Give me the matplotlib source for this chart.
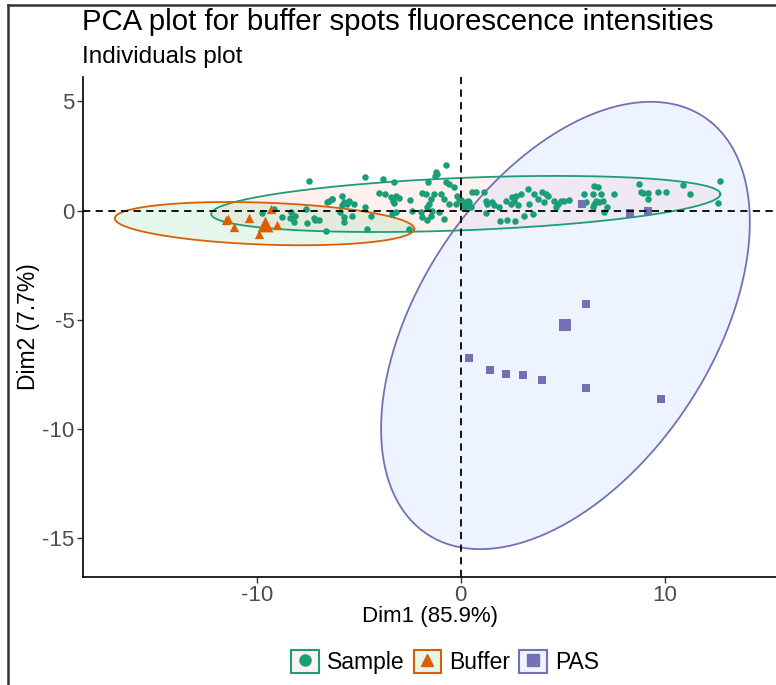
import numpy as np
import matplotlib
matplotlib.use('Agg')
import matplotlib.pyplot as plt
from matplotlib.patches import Patch
from matplotlib.lines import Line2D

plt.rcParams['font.family'] = ['Liberation Sans', 'DejaVu Sans']
plt.rcParams['axes.unicode_minus'] = False

# グループ別の個体座標 (Dim1, Dim2)
sample_x = [-7.45, -6.55, -9.75, -9.17, -8.76, -8.32, -8.39, -8.11, -8.19, -7.53, -7.57, -7.2, -6.96,
            -7.13, -6.63, -0.70, -1.23, -1.28, -1.18, -4.67, -3.80, -3.28, -1.61, -6.30, -5.81, -5.73,
            -5.57, -5.49, -5.24, -5.81, -4.01, -3.69, -3.44, -3.19, -3.03, -3.28, -3.31, -2.49, -1.88,
            -1.72, -1.31, -0.98, -0.82, -0.57, -1.47, -1.56, -1.64, -1.39, -0.16, -0.08, -5.90, -5.73,
            -5.73, -5.32, -4.67, -4.42, -3.36, -3.19, -2.37, -1.97, -1.88, -1.64, -1.47, -1.07, -0.82,
            -4.58, -2.54, -0.33, -0.74, -0.57, -0.25, -6.47, -6.30,
            0.57, 0.74, 1.15, 0.41, 0.49, 0.16, 1.23, 1.31, 1.23, 1.56, 1.64, 1.88, 2.21, 2.46, 2.54,
            2.70, 2.62, 2.79, 2.95, 3.28, 3.36, 3.60, 3.77, 4.01, 4.18, 4.26, 4.09, 4.58, 4.75, 4.67,
            4.91, 5.08, 5.32, 6.06, 6.14, 1.93, 2.29, 2.67, 3.11, 3.57, 0.0, 0.08, 0.35, 0.30,
            6.55, 6.72, 6.47, 6.88, 6.63, 6.80, 6.96, 6.55, 6.47, 7.17, 7.04, 7.50, 8.76, 8.85, 8.93,
            9.21, 9.21, 9.66, 10.07, 10.89, 11.27, 12.74, 12.61]
sample_y = [1.33, 0.38, -0.12, 0.08, -0.30, -0.08, -0.33, -0.26, -0.53, -0.58, 0.08, -0.33, -0.42,
            -0.45, -0.94, 2.09, 1.74, 1.59, 1.67, 1.55, 1.44, 1.29, 1.29, 0.53, 0.68, 0.38,
            0.30, 0.45, 0.30, 0.23, 0.80, 0.76, 0.60, 0.68, 0.58, 0.33, 0.42, 0.49, 0.80,
            0.76, 0.76, 0.76, 0.53, 0.30, 0.53, 0.30, 0.15, 0.0, 0.68, 0.53, -0.08, -0.30,
            -0.53, -0.23, 0.15, -0.23, -0.15, -0.08, 0.0, -0.08, -0.30, -0.45, -0.27, -0.08, -0.38,
            -0.86, -0.83, 1.06, 1.29, 1.21, 0.30, 0.45, 0.53,
            0.83, 0.83, 0.83, 0.38, 0.15, 0.15, 0.45, 0.30, -0.12, 0.38, 0.23, 0.15, 0.45, 0.30, 0.60,
            0.68, 0.45, 0.23, 0.76, 0.99, 0.30, 0.76, 0.53, 0.83, 0.76, 0.68, 0.38, 0.45, 0.30, 0.15,
            0.45, 0.45, 0.49, 0.76, 0.38, -0.50, -0.42, -0.49, -0.23, -0.15, 0.49, 0.38, 0.45, 0.20,
            1.14, 1.06, 0.76, 0.76, 0.45, 0.38, 0.45, 0.30, 0.15, 0.15, -0.08, 0.76, 1.21, 0.83, 0.80,
            0.80, 0.53, 0.83, 0.86, 1.17, 0.76, 1.33, 0.35]
buffer_x = [-11.5, -11.14, -10.4, -9.88, -9.29, -9.0, -11.4]
buffer_y = [-0.45, -0.76, -0.33, -1.06, 0.08, -0.65, -0.38]
pas_x = [6.16, 0.41, 1.46, 2.21, 3.06, 3.98, 6.16, 9.83, 5.93, 8.32, 9.17]
pas_y = [-4.27, -6.73, -7.29, -7.5, -7.53, -7.77, -8.11, -8.62, 0.30, -0.11, 0.0]

groups = ['Sample', 'Buffer', 'PAS']
group_x = [sample_x, buffer_x, pas_x]
group_y = [sample_y, buffer_y, pas_y]
mean_x = [0.25, -9.62, 5.14]
mean_y = [0.30, -0.60, -5.26]

# 楕円 (中心は平均値, 半径, 角度 deg)
ell_a = [12.5, 7.35, 11.73]
ell_b = [1.2, 0.96, 7.0]
ell_angle = [2.1, -1.9, 52.5]

line_colors = ['#1B9E77', '#D95F02', '#7570B3']
fill_colors = ['#F8766D', '#00BA38', '#619CFF']
markers = ['o', '^', 's']
sizes = [22, 45, 26]
mean_sizes = [60, 130, 70]

fig = plt.figure(figsize=(7.76, 6.85), dpi=100)
ax = fig.add_axes([83 / 776, 1 - 577 / 685, 1 - 83 / 776, 500 / 685])

t = np.linspace(0, 2 * np.pi, 300)
for i in range(3):
    th = np.deg2rad(ell_angle[i])
    ex = mean_x[i] + ell_a[i] * np.cos(t) * np.cos(th) - ell_b[i] * np.sin(t) * np.sin(th)
    ey = mean_y[i] + ell_a[i] * np.cos(t) * np.sin(th) + ell_b[i] * np.sin(t) * np.cos(th)
    ax.fill(ex, ey, color=fill_colors[i], alpha=0.1, lw=0, zorder=1)
    ax.plot(ex, ey, color=line_colors[i], lw=1.3, zorder=2)

for i in range(3):
    ax.scatter(group_x[i], group_y[i], s=sizes[i], marker=markers[i], color=line_colors[i],
               linewidths=0, zorder=3)
    ax.scatter([mean_x[i]], [mean_y[i]], s=mean_sizes[i], marker=markers[i], color=line_colors[i],
               linewidths=0, zorder=3)

ax.axhline(0, color='black', ls=(0, (4, 3)), lw=1.3, zorder=4)
ax.axvline(0, color='black', ls=(0, (4, 3)), lw=1.3, zorder=4)

ax.set_xlim(-18.53, 15.47)
ax.set_ylim(-16.77, 6.11)
ax.set_xticks([-10, 0, 10])
ax.set_yticks([5, 0, -5, -10, -15])
ax.spines['top'].set_visible(False)
ax.spines['right'].set_visible(False)
ax.spines['left'].set_linewidth(1.2)
ax.spines['bottom'].set_linewidth(1.2)
ax.tick_params(labelsize=16, labelcolor='#4D4D4D', color='#333333', length=4, width=1, pad=2)
ax.set_xlabel('Dim1 (85.9%)', fontsize=16, labelpad=0)
ax.set_ylabel('Dim2 (7.7%)', fontsize=16.5, labelpad=2)

fig.text(82 / 776, 1 - 22 / 685, 'PCA plot for buffer spots fluorescence intensities',
         fontsize=21.2, va='center', ha='left')
fig.text(82 / 776, 1 - 57 / 685, 'Individuals plot', fontsize=17.5, va='center', ha='left')

handles = []
for i in range(3):
    p = Patch(facecolor=fill_colors[i] + '1A', edgecolor=line_colors[i], lw=1.5)
    m = Line2D([], [], marker=markers[i], color=line_colors[i], ls='', markersize=8)
    handles.append((p, m))
fig.legend(handles, groups, loc='center', bbox_to_anchor=(445 / 776, 1 - 662 / 685), ncol=3,
           frameon=False, fontsize=16.5, handlelength=1.2, handleheight=1.2, handletextpad=0.35,
           columnspacing=0.4)

# スクリーンショットの枠線
fig.add_artist(Line2D([8 / 776, 8 / 776], [0, 1 - 5 / 685], color='#333333', lw=1.8))
fig.add_artist(Line2D([8 / 776, 1], [1 - 5 / 685, 1 - 5 / 685], color='#333333', lw=1.8))

fig.savefig('out.png', dpi=100)
